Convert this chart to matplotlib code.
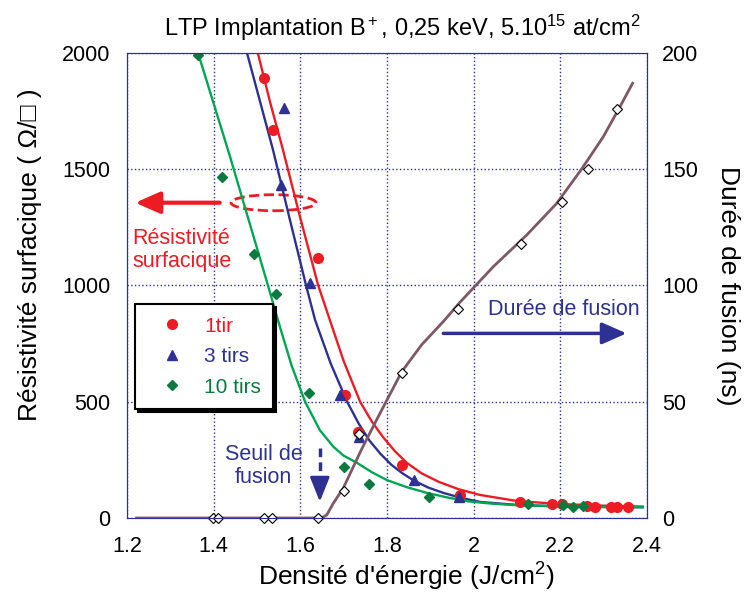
import numpy as np
import matplotlib.pyplot as plt
from matplotlib.patches import Ellipse

plt.rcParams['font.family'] = ['Liberation Sans', 'DejaVu Sans']
plt.rcParams['mathtext.fontset'] = 'custom'
plt.rcParams['mathtext.rm'] = 'Liberation Sans'
plt.rcParams['mathtext.it'] = 'Liberation Sans:italic'

RED = '#ed1c24'
BLUE = '#2e3192'
GREEN = '#00a651'
DKGREEN = '#0b7a3e'
BROWN = '#7e5866'

# measured sheet resistance (ohm/sq)
x_1tir = [1.516, 1.537, 1.641, 1.703, 1.734, 1.834, 1.968, 2.108, 2.180, 2.205, 2.262, 2.280, 2.316, 2.331, 2.357]
r_1tir = [1892, 1669, 1118, 529, 371, 228, 100, 68, 59, 60, 53, 49, 49, 49, 49]
x_3tirs = [1.562, 1.555, 1.622, 1.692, 1.735, 1.862, 1.966]
r_3tirs = [1763, 1432, 1011, 529, 350, 163, 92]
x_10tirs = [1.363, 1.419, 1.492, 1.544, 1.621, 1.701, 1.759, 1.898, 2.125, 2.206, 2.229, 2.252]
r_10tirs = [1991, 1467, 1135, 962, 539, 221, 146, 92, 60, 56, 47, 52]

# fitted curves
fx_1tir = [1.502, 1.530, 1.560, 1.600, 1.641, 1.668, 1.700, 1.738, 1.765, 1.790, 1.818, 1.846,
           1.880, 1.920, 1.965, 2.015, 2.100, 2.200, 2.300, 2.390]
fy_1tir = [2000, 1790, 1583, 1290, 1002, 852, 675, 500, 415, 350, 288, 237,
           192, 155, 124, 99, 73, 60, 53, 49]
fx_3tirs = [1.477, 1.537, 1.575, 1.613, 1.634, 1.670, 1.708, 1.735, 1.760, 1.785, 1.810, 1.835,
            1.860, 1.895, 1.930, 1.970, 2.015, 2.100, 2.200, 2.300, 2.390]
fy_3tirs = [2000, 1583, 1290, 1002, 852, 665, 500, 405, 332, 276, 229, 193,
            163, 131, 108, 87, 69, 56, 50, 47, 46]
fx_10tirs = [1.364, 1.438, 1.525, 1.553, 1.580, 1.611, 1.645, 1.676, 1.700, 1.731, 1.765, 1.800,
             1.845, 1.892, 1.940, 1.985, 2.040, 2.100, 2.200, 2.300, 2.390]
fy_10tirs = [2000, 1553, 1002, 822, 655, 500, 378, 307, 268, 237, 197, 163,
             133, 108, 88, 72, 62, 55, 50, 48, 47]

# melt duration (ns)
x_fus = [1.398, 1.410, 1.516, 1.535, 1.641, 1.701, 1.735, 1.834, 1.964, 2.109, 2.204, 2.264, 2.331]
d_fus = [0, 0, 0, 0, 0, 11.7, 36, 62.5, 90, 118, 136, 150, 176]
fx_fus = [1.222, 1.400, 1.600, 1.649, 1.661, 1.676, 1.699, 1.740, 1.776, 1.834, 1.880, 1.930, 1.9685,
          2.0454, 2.1224, 2.1916, 2.2493, 2.2993, 2.3377, 2.3669]
fy_fus = [0, 0, 0, 0, 1.3, 6.3, 12.8, 29, 42.2, 62.9, 74.5, 84.5, 92.8,
          108.1, 121.7, 135.3, 150.1, 164.0, 176.9, 187.0]

xticks = [1.2, 1.4, 1.6, 1.8, 2.0, 2.2, 2.4]
xticklabels = ['1.2', '1.4', '1.6', '1.8', '2', '2.2', '2.4']

fig = plt.figure(figsize=(7.47, 5.98), dpi=100)
ax = fig.add_axes([0.1700, 0.1338, 0.6961, 0.7776])

ax.plot(fx_1tir, fy_1tir, color=RED, lw=1.7)
ax.plot(fx_3tirs, fy_3tirs, color=BLUE, lw=1.7)
ax.plot(fx_10tirs, fy_10tirs, color=GREEN, lw=1.7)

h1, = ax.plot(x_1tir, r_1tir, 'o', color=RED, ms=7, label='1tir')
h2, = ax.plot(x_3tirs, r_3tirs, '^', color=BLUE, ms=7, label='3 tirs')
h3, = ax.plot(x_10tirs, r_10tirs, 'D', color=DKGREEN, ms=5.5, label='10 tirs')

ax.set_xlim(1.2, 2.4)
ax.set_ylim(0, 2000)
ax.set_xticks(xticks)
ax.set_xticklabels(xticklabels)
ax.set_yticks([0, 500, 1000, 1500, 2000])
ax.grid(True, linestyle=':', color=BLUE, lw=1)
ax.tick_params(axis='x', length=0, pad=13, labelsize=15.5)
ax.tick_params(axis='y', length=0, pad=12, labelsize=15.5)
for s in ax.spines.values():
    s.set_color(BLUE)

ax.set_xlabel("Densité d'énergie (J/cm$^2$)", fontsize=19)
ax.set_ylabel('Résistivité surfacique ( Ω/□ )', fontsize=19)
ax.xaxis.set_label_coords(0.537, -0.093)
ax.yaxis.set_label_coords(-0.163, 0.566)

leg = ax.legend(handles=[h1, h2, h3], loc='upper left', bbox_to_anchor=(0.015, 0.46),
                fontsize=15, frameon=True, fancybox=False, edgecolor='black',
                framealpha=1, shadow={'color': 'black', 'alpha': 1},
                borderpad=0.6, handlelength=2.36, handletextpad=0.36,
                labelspacing=0.55, borderaxespad=0)
leg.get_frame().set_linewidth(1.5)
for t, c in zip(leg.get_texts(), [RED, BLUE, DKGREEN]):
    t.set_color(c)

# annotations
ax.annotate('', xy=(1.219, 1356), xytext=(1.414, 1356),
            arrowprops=dict(arrowstyle='-|>,head_length=0.75,head_width=0.33',
                            mutation_scale=20, color=RED, lw=3, shrinkA=0, shrinkB=0))
ax.add_patch(Ellipse((1.538, 1356), 0.196, 69, fill=False, ls='--', color=RED, lw=2))
ax.text(1.326, 1153, 'Résistivité\nsurfacique', color=RED, fontsize=15.5,
        ha='center', va='center', linespacing=1.1)

ax.annotate('', xy=(2.353, 794), xytext=(1.930, 794),
            arrowprops=dict(arrowstyle='-|>,head_length=0.75,head_width=0.33',
                            mutation_scale=20, color=BLUE, lw=2.5, shrinkA=0, shrinkB=0))
ax.text(2.2085, 895, 'Durée de fusion', color=BLUE, fontsize=15.5,
        ha='center', va='center')

ax.plot([1.645, 1.645], [301, 160], color=BLUE, lw=2.5, ls=(0, (2.5, 1.5)))
ax.annotate('', xy=(1.645, 70), xytext=(1.645, 160),
            arrowprops=dict(arrowstyle='-|>,head_length=0.75,head_width=0.3',
                            mutation_scale=20, color=BLUE, lw=2, shrinkA=0, shrinkB=0))
ax.text(1.515, 224, 'Seuil de\nfusion', color=BLUE, fontsize=15.5,
        ha='center', va='center', linespacing=1.1)

ax2 = ax.twinx()
ax2.plot(fx_fus, fy_fus, color=BROWN, lw=2)
ax2.plot(x_fus, d_fus, 'D', mfc='white', mec='black', mew=0.8, ms=5.5, clip_on=False)
ax2.set_ylim(0, 200)
ax2.set_yticks([0, 50, 100, 150, 200])
ax2.tick_params(axis='y', length=0, pad=11, labelsize=15.5)
for s in ax2.spines.values():
    s.set_color(BLUE)
ax2.set_ylabel('Durée de fusion (ns)', fontsize=19, rotation=-90, va='center')
ax2.yaxis.set_label_coords(1.156, 0.5)

fig.text(0.539, 0.953, 'LTP Implantation B$^+$, 0,25 keV, 5.10$^{15}$ at/cm$^2$',
         fontsize=17, ha='center', va='center')

plt.savefig('out.png', dpi=100)
